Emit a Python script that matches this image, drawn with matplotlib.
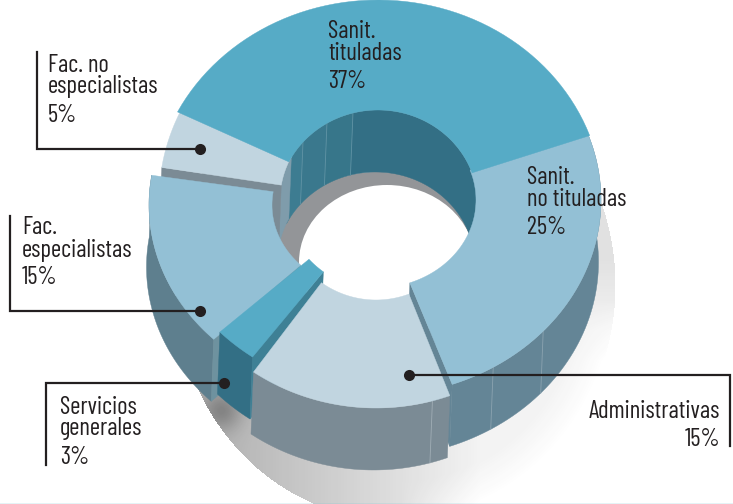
import numpy as np
import matplotlib
matplotlib.use("Agg")
import matplotlib.pyplot as plt
from matplotlib.patches import Polygon, Ellipse

# the shares, clockwise from the upper left
labels = ["Sanit.\ntituladas", "Sanit.\nno tituladas", "Administrativas", "Servicios\ngenerales", "Fac.\nespecialistas", "Fac. no\nespecialistas"]
values = [37, 25, 15, 3, 15, 5]

plt.rcParams["font.family"] = ["Barlow Condensed", "Liberation Sans Narrow", "Roboto", "DejaVu Sans"]
INK = "#231f20"

fig = plt.figure(figsize=(7.33, 5.04), dpi=100)
ax = fig.add_axes([0, 0, 1, 1])

# wedge angles come from the values
ends = 153 - np.cumsum(values) * 3.6
starts = np.r_[153, ends[:-1]]

# cx, cy, outer rx/ry, inner rx/ry for each slice: they are pulled apart a bit
shape = [
    (378, 205, 225, 205, 100, 95),
    (376, 200, 225, 196, 100, 88),
    (376, 200, 218, 208, 97, 100),
    (379, 185, 225, 208, 99, 105),
    (370, 205, 221, 190, 98, 85),
    (384, 200, 225, 208, 104, 95),
]
DROP = np.array([-2.5, 62])


def arc(i, a0, a1, outer=True):
    cx, cy, rxo, ryo, rxi, ryi = shape[i]
    rx, ry = (rxo, ryo) if outer else (rxi, ryi)
    t = np.radians(np.linspace(a0, a1, 60))
    return np.c_[cx + rx * np.cos(t), cy - ry * np.sin(t)]


def fill(pts, color, z):
    ax.add_patch(Polygon(pts, closed=True, fc=color, ec=color, lw=0.3, zorder=z))


def top(i, color, z):
    fill(np.r_[arc(i, starts[i], ends[i]), arc(i, ends[i], starts[i], False)], color, z)


def side(i, a0, a1, color, z, outer=True):
    p = arc(i, a0, a1, outer)
    fill(np.r_[p, p[::-1] + DROP], color, z)


def cut(i, a, color, z):
    p = np.r_[arc(i, a, a)[:1], arc(i, a, a, False)[:1]]
    fill(np.r_[p, p[::-1] + DROP], color, z)


def seam(i, a, color, z, outer=True):
    p = arc(i, a, a, outer)[0]
    ax.plot([p[0], p[0] + DROP[0]], [p[1], p[1] + DROP[1]], color=color, lw=0.6, zorder=z)


# soft shadow under the ring
yy, xx = np.mgrid[0:504, 0:733]
inside = ((xx - 395) / 220.0) ** 2 + ((yy - 285) / 235.0) ** 2
u = np.clip((480 - xx) / 260.0, 0, 1.2)
dark = 15 + 80 * u + 22 * np.clip((330 - yy) / 70.0, 0, 1)
dark = dark + 60 * np.exp(-((xx - 222.0) ** 2 + (yy - 410.0) ** 2) / (2 * 14.0 ** 2))
# the lower right edge melts away
fade = np.clip((1 - inside) / 0.3, 0, 1)
low_right = np.clip((xx - 400) / 80.0, 0, 1) * np.clip((yy - 300) / 60.0, 0, 1)
dark = dark * (1 - low_right * (1 - fade))
img = np.ones((504, 733, 4))
img[..., :3] = 0.2
img[..., 3] = np.where(inside < 1, dark / 255.0, 0)
ax.imshow(img, extent=(0, 733, 504, 0), aspect="auto", zorder=1, interpolation="bilinear")

# floor seen through the hole
ax.add_patch(Ellipse((378, 265), 222, 186, fc="#939598", ec="none", zorder=2))
ax.add_patch(Ellipse((387, 262), 176, 154, fc="white", ec="none", zorder=3))

# inner wall of the big slice, in a few shades; it runs on a little under the next slice
breaks = [starts[0], 138.6, 120.7, 104.5, ends[0] - 10]
shades = ["#3d7c91", "#3a788d", "#37768a", "#336f85"]
for k in range(4):
    side(0, breaks[k], breaks[k + 1], shades[k], 4, outer=False)
for a in breaks[1:4]:
    seam(0, a, "#5f93a5", 5, outer=False)

# Fac. no especialistas
side(5, starts[5], ends[5], "#7f9cab", 6, outer=False)
cut(5, starts[5], "#7b8b95", 7)
top(5, "#c1d5e0", 8)

# Fac. especialistas
side(4, starts[4], ends[4], "#5e7f8e", 9)
cut(4, starts[4], "#6e929f", 10)
top(4, "#93c0d5", 11)

# Servicios generales
side(3, starts[3], ends[3], "#336f85", 12)
cut(3, starts[3], "#3e8095", 13)
top(3, "#56abc6", 14)

# Sanit. no tituladas, Administrativas
cut(1, ends[1], "#648596", 15)
side(1, starts[1], ends[1], "#648596", 16)
for a in [-42, -58.6]:
    seam(1, a, "#8ba3b0", 17)
side(2, starts[2], ends[2], "#7b8b95", 18)
seam(2, -75, "#a0adb5", 19)
top(2, "#c1d5e0", 20)
top(1, "#93c0d5", 21)
top(0, "#56abc6", 22)

# leader lines
leaders = [
    ([37, 37, 200], [52, 149, 149]),
    ([10, 10, 200], [216, 311, 311]),
    ([46, 46, 224], [465, 383, 383]),
    ([730, 730, 409], [446, 375, 375]),
]
for lx, ly in leaders:
    ax.plot(lx, ly, color=INK, lw=1.6, zorder=30, solid_joinstyle="miter")
    ax.plot(lx[-1], ly[-1], "o", color=INK, ms=8, mew=0, zorder=31)

# x, y of the first line and the alignment for each label
spots = [(328, 32, "left"), (527, 177, "left"), (720, 412, "right"), (60, 407, "left"), (22, 228, "left"), (48, 65, "left")]
for name, v, (tx, ty, ha) in zip(labels, values, spots):
    lines = name.split("\n")
    for j, s in enumerate(lines):
        ax.text(tx, ty + j * 22, s, ha=ha, va="center", fontsize=17.8, color=INK, zorder=32)
    ax.text(tx, ty + (len(lines) - 1) * 22 + 28, f"{v}%", ha=ha, va="center", fontsize=17.8, color=INK, zorder=32)

ax.plot([0, 733], [503.5, 503.5], color="#7cc3d3", lw=1, zorder=33)

ax.set_xlim(0, 733)
ax.set_ylim(504, 0)
ax.axis("off")
fig.savefig("out.png", dpi=100)
